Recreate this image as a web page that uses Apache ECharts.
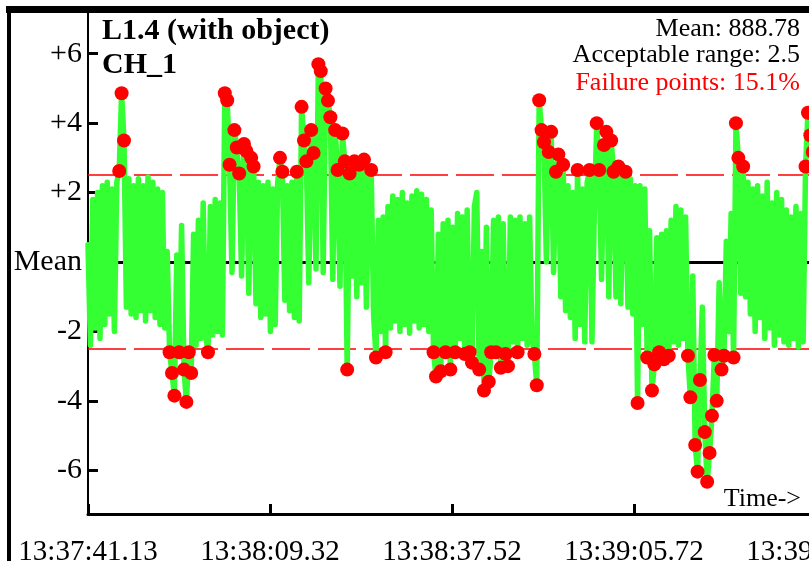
<!DOCTYPE html>
<html>
<head>
<meta charset="utf-8">
<script src="https://cdn.jsdelivr.net/npm/echarts@6/dist/echarts.min.js"></script>
<style>
  html, body { margin: 0; padding: 0; background: #ffffff; }
  #chart { width: 809px; height: 561px; }
</style>
</head>
<body>
<div id="chart"></div>
<script>
// ---- data ----
const timeLabels = ['13:37:41.13', '13:38:09.32', '13:38:37.52', '13:39:05.72', '13:39:33.92'];
const tickStep = 28.197;        // seconds between labelled ticks
const samplePeriod = 0.3718;    // seconds between samples
const yTickValues = [6, 4, 2, 0, -2, -4, -6];
const yTickLabels = ['+6', '+4', '+2', 'Mean', '-2', '-4', '-6'];
const acceptableRange = 2.5;
const meanValue = '888.78';
const failurePercent = '15.1%';
const titleLines = ['L1.4 (with object)', 'CH_1'];

// deviation from mean, one value per sample
const deviation = [
  0.5, -2.4, 1.8, -1.9, 2.0, -2.2, 2.2, -1.8, 2.3, -1.5,
  2.1, -2.0, 2.3, 2.62, 4.86, 3.5, -1.3, 2.4, -1.5, 2.2,
  -1.6, 2.4, -1.4, 2.2, -1.7, 2.45, -1.4, 2.3, -1.6, 2.1,
  -1.8, 2.0, -1.9, 0.3, -2.6, -3.2, -3.85, 0.2, -2.6, 1.05,
  -3.1, -4.03, -2.6, -3.2, 0.8, -2.4, 1.2, -2.2, 1.7, -2.1,
  -2.6, 1.6, -2.1, 1.8, -2.0, 1.7, -2.1, 4.86, 4.66, 2.8,
  -0.3, 3.8, 3.3, 2.55, -0.4, 3.4, 3.2, -0.9, 3.0, 2.75,
  -1.2, 2.3, -1.6, 2.2, -1.5, 2.3, -2.0, 2.1, -1.8, 2.25,
  3.0, 2.6, -1.1, 2.2, -1.4, 2.3, -1.6, 2.6, -1.7, 4.47,
  3.5, 2.9, -0.6, 3.8, 3.14, -0.2, 5.7, 5.5, -0.3, 5.0,
  4.65, 4.17, -0.5, 3.8, 2.65, -0.7, 3.7, 2.9, -3.1, 2.55,
  -0.4, 2.9, -1.0, 2.8, -0.6, 2.95, -1.3, 2.4, 2.65, -1.5,
  -2.75, 1.2, -2.0, 1.3, -2.6, 1.6, -1.9, 1.9, -1.7, 1.8,
  -2.0, 2.0, -1.8, 1.7, -2.05, 1.9, -1.7, 2.05, -1.9, 1.95,
  -1.8, 1.8, -2.0, 1.5, -2.6, -3.3, 0.8, -3.15, 1.1, -2.6,
  1.2, -3.1, 1.0, -2.6, 1.4, -2.2, 1.3, -2.65, 1.5, -2.6,
  -2.9, 1.6, 2.0, -3.1, 0.3, -3.7, 1.0, -3.45, -2.6, 1.2,
  -2.6, 1.3, -3.05, 1.1, -2.65, -3.0, 1.3, -2.3, 1.2, -2.6,
  1.3, -2.2, 1.1, -2.4, 1.3, -2.2, -2.65, -3.55, 4.66, 3.8,
  3.45, 0.0, 3.17, 3.75, -0.3, 2.6, 3.1, -1.0, 2.8, -1.4,
  2.2, -1.6, 2.0, -2.2, 2.65, -1.8, 2.1, -2.3, 2.3, 2.65,
  -2.3, 1.5, 4.0, 2.65, -0.5, 3.37, 3.75, -1.0, 3.5, 2.6,
  -1.0, 2.75, -1.2, 2.3, 2.6, -1.3, 2.4, -1.5, 2.2, -4.06,
  2.2, -1.8, 2.1, -2.75, 0.9, -3.7, -2.95, 0.7, -2.6, 0.8,
  -2.8, 0.9, -2.7, 1.2, -2.3, 1.6, -2.4, 1.5, -2.2, 1.3,
  -2.7, -3.9, -0.4, -5.27, -6.04, -3.4, -1.3, -4.9, -6.33, -5.5,
  -4.43, -2.68, -4.0, -0.6, -3.1, -2.7, 0.6, -2.0, 1.4, -2.75,
  4.0, 3.0, -0.9, 2.75, -1.0, 2.3, -1.5, 2.1, -2.0, 2.2,
  -1.6, 1.9, -2.2, 2.3, -1.9, 1.7, -2.4, 2.0, -2.1, 1.8,
  -2.3, 1.5, -2.4, 1.3, -2.2, 1.6, -2.45, 1.4, -2.3, 2.75,
  4.3, 3.65, 3.17, 0.5, 2.2, -1.5, 2.0, -1.8, 1.9, -1.2
];

// ---- build series tables ----
const linePoints = deviation.map((v, i) => [i * samplePeriod, v]);
const failurePoints = linePoints.filter(p => Math.abs(p[1]) > acceptableRange);

const serif = '"Liberation Serif", "Times New Roman", serif';

const chart = echarts.init(document.getElementById('chart'), null, { renderer: 'canvas' });

chart.setOption({
  animation: false,
  backgroundColor: '#ffffff',
  grid: { left: 88, right: -30, top: 10, bottom: 47, containLabel: false, outerBoundsMode: 'none' },
  xAxis: {
    type: 'value',
    min: 0,
    max: 116.35,
    interval: tickStep,
    axisLine: { onZero: false, lineStyle: { color: '#000', width: 3 } },
    axisTick: { inside: true, length: 10, lineStyle: { color: '#000', width: 3 } },
    splitLine: { show: false },
    axisLabel: {
      margin: 24,
      color: '#000',
      fontFamily: serif,
      fontSize: 29,
      hideOverlap: false,
      formatter: function (v) {
        const k = Math.round(v / tickStep);
        if (Math.abs(v - k * tickStep) > 1e-3) return '';
        return timeLabels[k] || '';
      }
    }
  },
  yAxis: {
    type: 'value',
    min: -7.26,
    max: 7.26,
    splitNumber: 7,
    axisLine: { onZero: false, lineStyle: { color: '#000', width: 2 } },
    axisTick: { inside: true, length: 10, customValues: yTickValues, lineStyle: { color: '#000', width: 3 } },
    splitLine: { show: false },
    axisLabel: {
      margin: 6,
      color: '#000',
      fontFamily: serif,
      fontSize: 30,
      customValues: yTickValues,
      formatter: function (v) {
        for (let j = 0; j < yTickValues.length; j++) {
          if (Math.abs(v - yTickValues[j]) < 1e-6) return yTickLabels[j];
        }
        return '';
      }
    }
  },
  series: [
    {
      type: 'line',
      data: linePoints,
      showSymbol: false,
      symbol: 'none',
      z: 3,
      lineStyle: { color: '#33ff33', width: 5.5, opacity: 1, join: 'round', cap: 'round' },
      silent: true,
      markLine: {
        silent: true,
        z: 1,
        symbol: ['none', 'none'],
        label: { show: false },
        data: [
          { yAxis: 0, lineStyle: { color: '#000', width: 3, type: 'solid' } },
          { yAxis: acceptableRange, lineStyle: { color: '#ff0000', width: 1.5, type: [38, 8] } },
          { yAxis: -acceptableRange, lineStyle: { color: '#ff0000', width: 1.5, type: [38, 8] } }
        ]
      }
    },
    {
      type: 'scatter',
      data: failurePoints,
      symbol: 'circle',
      symbolSize: 14,
      z: 4,
      silent: true,
      itemStyle: { color: '#ff0000', opacity: 1, borderWidth: 0 }
    }
  ],
  graphic: [
    { type: 'rect', z: 100, shape: { x: 6, y: 6, width: 803, height: 7 }, style: { fill: '#000' } },
    { type: 'rect', z: 100, shape: { x: 7, y: 6, width: 4, height: 555 }, style: { fill: '#000' } },
    { type: 'text', z: 100, x: 102, y: 31, style: { text: titleLines[0], font: 'bold 30px ' + serif, fill: '#000', textAlign: 'left', textVerticalAlign: 'middle', align: 'left', verticalAlign: 'middle' } },
    { type: 'text', z: 100, x: 102, y: 65, style: { text: titleLines[1], font: 'bold 30px ' + serif, fill: '#000', textAlign: 'left', textVerticalAlign: 'middle', align: 'left', verticalAlign: 'middle' } },
    { type: 'text', z: 100, x: 800, y: 29, style: { text: 'Mean: ' + meanValue, font: '26px ' + serif, fill: '#000', textAlign: 'right', textVerticalAlign: 'middle', align: 'right', verticalAlign: 'middle' } },
    { type: 'text', z: 100, x: 800, y: 55, style: { text: 'Acceptable range: ' + acceptableRange, font: '26px ' + serif, fill: '#000', textAlign: 'right', textVerticalAlign: 'middle', align: 'right', verticalAlign: 'middle' } },
    { type: 'text', z: 100, x: 800, y: 83, style: { text: 'Failure points: ' + failurePercent, font: '26px ' + serif, fill: '#ff0000', textAlign: 'right', textVerticalAlign: 'middle', align: 'right', verticalAlign: 'middle' } },
    { type: 'text', z: 100, x: 801, y: 499, style: { text: 'Time->', font: '26px ' + serif, fill: '#000', textAlign: 'right', textVerticalAlign: 'middle', align: 'right', verticalAlign: 'middle' } }
  ]
});
</script>
</body>
</html>
